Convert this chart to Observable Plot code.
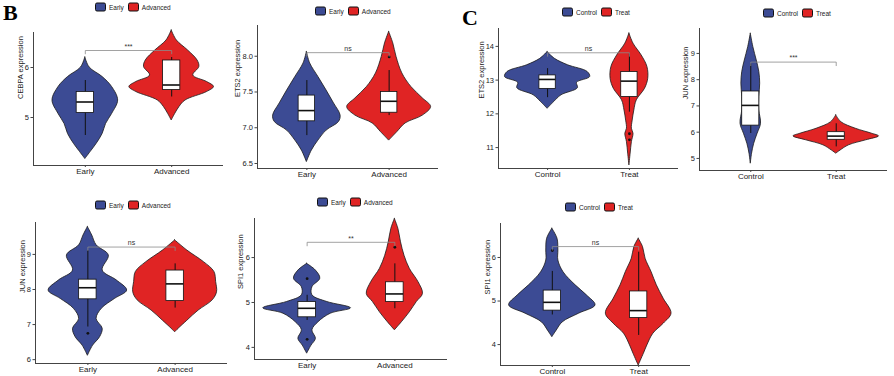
<!DOCTYPE html>
<html><head><meta charset="utf-8">
<script src="https://cdn.jsdelivr.net/npm/d3@7"></script>
<script src="https://cdn.jsdelivr.net/npm/@observablehq/plot@0.6"></script>
<style>
body{margin:0;background:#fff;}
#fig{position:relative;width:894px;height:376px;overflow:hidden;font-family:"Liberation Sans",Arial,sans-serif;background:#fff;}
.panel{position:absolute;}
.legend{position:absolute;display:flex;align-items:center;font-size:6.5px;color:#222;white-space:nowrap;transform:translateY(-50%);}
.sw{width:11px;height:9px;border:1px solid #111;border-radius:2px;box-sizing:border-box;margin-right:3px;}
.lt{margin-right:4px;}
.letter{position:absolute;font-family:"Liberation Serif","DejaVu Serif",serif;font-weight:bold;font-size:22px;line-height:22px;color:#000;}
</style></head><body><div id="fig"></div>
<script>
// ---------- data ----------
const groupsB = ["Early", "Advanced"];
const groupsC = ["Control", "Treat"];
const groupColors = ["#3C4B94", "#E02424"];

// violin outlines: [expression value, half-width in category units]
const CEBPA_Early = [[6.2,0],[6.0,.05],[5.81,.2],[5.61,.31],[5.34,.38],[5.07,.31],[4.87,.24],[4.67,.2],[4.47,.13],[4.33,.07],[4.17,0]];
const CEBPA_Advanced = [[6.74,0],[6.54,.06],[6.34,.19],[6.14,.30],[6.01,.32],[5.84,.25],[5.71,.41],[5.61,.49],[5.51,.41],[5.34,.16],[5.21,.09],[5.07,.04],[4.94,0]];
const ETS2B_Early = [[8.06,0],[7.90,.04],[7.71,.14],[7.52,.24],[7.34,.33],[7.17,.41],[7.08,.39],[6.96,.24],[6.82,.14],[6.68,.06],[6.52,0]];
const ETS2B_Advanced = [[8.34,0],[8.18,.05],[7.99,.09],[7.76,.16],[7.57,.27],[7.41,.41],[7.29,.51],[7.17,.41],[7.06,.2],[6.94,.1],[6.82,0]];
const JUNB_Early = [[9.78,0],[9.54,.05],[9.26,.1],[8.97,.24],[8.54,.17],[8.26,.33],[7.97,.45],[7.73,.31],[7.45,.16],[7.16,.1],[6.88,.17],[6.64,.14],[6.40,.06],[6.11,0]];
const JUNB_Advanced = [[9.40,0],[9.11,.14],[8.78,.33],[8.50,.45],[8.21,.47],[7.92,.48],[7.69,.43],[7.40,.27],[7.11,.14],[6.88,.04],[6.78,0]];
const SPI1B_Early = [[5.86,0],[5.71,.1],[5.53,.15],[5.34,.06],[5.16,.06],[5.01,.23],[4.87,.5],[4.75,.27],[4.56,.13],[4.38,.06],[4.19,.1],[4.04,.05],[3.86,0]];
const SPI1B_Advanced = [[6.86,0],[6.64,.04],[6.34,.07],[6.04,.11],[5.75,.17],[5.45,.27],[5.19,.32],[5.01,.25],[4.78,.17],[4.56,.08],[4.38,0]];
const ETS2C_Control = [[13.83,0],[13.63,.09],[13.44,.25],[13.24,.49],[13.09,.52],[12.92,.36],[12.76,.37],[12.55,.17],[12.35,.08],[12.15,0]];
const ETS2C_Treat = [[14.38,0],[14.08,.05],[13.73,.15],[13.39,.22],[13.04,.23],[12.74,.19],[12.40,.09],[12.10,.06],[11.80,.04],[11.56,.03],[11.41,.05],[11.16,.03],[10.82,.015],[10.47,0]];
const JUNC_Control = [[9.75,0],[9.24,.03],[8.73,.07],[8.29,.1],[7.85,.11],[7.34,.1],[6.83,.1],[6.32,.12],[5.94,.08],[5.56,.04],[5.18,.015],[4.80,0]];
const JUNC_Treat = [[6.64,0],[6.38,.06],[6.13,.23],[5.94,.42],[5.84,.5],[5.69,.35],[5.50,.15],[5.30,.05],[5.18,0]];
const SPI1C_Control = [[6.66,0],[6.43,.06],[6.16,.07],[5.93,.07],[5.66,.13],[5.36,.27],[5.13,.4],[4.90,.5],[4.71,.31],[4.51,.12],[4.32,.05],[4.17,0]];
const SPI1C_Treat = [[6.43,0],[6.24,.05],[5.97,.08],[5.66,.15],[5.36,.21],[5.05,.29],[4.71,.38],[4.48,.29],[4.25,.17],[3.98,.1],[3.79,.06],[3.52,0]];

// boxes: [q1, median, q3, whisker low, whisker high] per group
const CEBPA_box = [[5.09,5.31,5.51,4.64,5.74],[5.55,5.65,6.14,5.41,6.2]];
const ETS2B_box = [[7.09,7.24,7.45,6.89,7.66],[7.21,7.37,7.50,7.17,7.80]];
const JUNB_box = [[7.72,8.05,8.28,6.93,9.11],[7.67,8.16,8.54,7.47,8.73]];
const SPI1B_box = [[4.67,4.87,5.01,4.60,5.16],[5.01,5.19,5.45,4.86,5.86]];
const ETS2C_box = [[12.74,13.02,13.14,12.48,13.34],[12.50,12.97,13.24,12.05,13.78]];
const JUNC_box = [[6.25,7.02,7.55,5.95,8.6],[5.71,5.85,6.0,5.44,6.32]];
const SPI1C_box = [[4.78,4.97,5.24,4.68,5.68],[4.61,4.78,5.22,4.21,6.12]];

// outliers: [group index, value]
const CEBPA_out = [];
const ETS2B_out = [[1,7.99]];
const JUNB_out = [[0,6.75]];
const SPI1B_out = [[0,5.53],[0,4.18],[1,6.23]];
const ETS2C_out = [[1,11.41],[1,11.23]];
const JUNC_out = [];
const SPI1C_out = [[0,6.16]];

// significance: [bracket height, label]
const CEBPA_sig = [6.34, "***"];
const ETS2B_sig = [8.05, "ns"];
const JUNB_sig = [9.21, "ns"];
const SPI1B_sig = [6.34, "**"];
const ETS2C_sig = [13.81, "ns"];
const JUNC_sig = [8.67, "***"];
const SPI1C_sig = [6.25, "ns"];

// y tick values
const CEBPA_ticks = [5, 6];
const ETS2B_ticks = [6.5, 7.0, 7.5, 8.0];
const JUNB_ticks = [6, 7, 8, 9];
const SPI1B_ticks = [4, 5, 6];
const ETS2C_ticks = [11, 12, 13, 14];
const JUNC_ticks = [5, 6, 7, 8, 9];
const SPI1C_ticks = [4, 5, 6];

// ---------- panels (data + layout) ----------
const panels = [
  {gene:"CEBPA", groups:groupsB, violins:[CEBPA_Early, CEBPA_Advanced], box:CEBPA_box, out:CEBPA_out, sig:CEBPA_sig, ticks:CEBPA_ticks, fmt:null,
   L:{ax:33, base:165, top:32, right:223, domain:[4.04,6.7], tdx:13, leg:[95,7]}},
  {gene:"ETS2", groups:groupsB, violins:[ETS2B_Early, ETS2B_Advanced], box:ETS2B_box, out:ETS2B_out, sig:ETS2B_sig, ticks:ETS2B_ticks, fmt:".1f",
   L:{ax:257, base:168, top:25, right:438, domain:[6.43,8.43], tdx:20, leg:[315,11]}},
  {gene:"JUN", groups:groupsB, violins:[JUNB_Early, JUNB_Advanced], box:JUNB_box, out:JUNB_out, sig:JUNB_sig, ticks:JUNB_ticks, fmt:null,
   L:{ax:35, base:363, top:222, right:227, domain:[5.89,9.91], tdx:13, leg:[95,205]}},
  {gene:"SPI1", groups:groupsB, violins:[SPI1B_Early, SPI1B_Advanced], box:SPI1B_box, out:SPI1B_out, sig:SPI1B_sig, ticks:SPI1B_ticks, fmt:null,
   L:{ax:254, base:359, top:218, right:447, domain:[3.73,6.87], tdx:14, leg:[317,202]}},
  {gene:"ETS2", groups:groupsC, violins:[ETS2C_Control, ETS2C_Treat], box:ETS2C_box, out:ETS2C_out, sig:ETS2C_sig, ticks:ETS2C_ticks, fmt:null,
   L:{ax:498, base:168, top:28, right:678, domain:[10.38,14.53], tdx:17, leg:[562,12]}},
  {gene:"JUN", groups:groupsC, violins:[JUNC_Control, JUNC_Treat], box:JUNC_box, out:JUNC_out, sig:JUNC_sig, ticks:JUNC_ticks, fmt:null,
   L:{ax:699, base:170, top:28, right:887, domain:[4.54,9.95], tdx:14, leg:[763,13]}},
  {gene:"SPI1", groups:groupsC, violins:[SPI1C_Control, SPI1C_Treat], box:SPI1C_box, out:SPI1C_out, sig:SPI1C_sig, ticks:SPI1C_ticks, fmt:null,
   L:{ax:500, base:365, top:223, right:690, domain:[3.52,6.78], tdx:13, leg:[565,207]}}
];

const fig = document.getElementById("fig");

function drawPanel(p) {
  const L = p.L;
  const mL = 40, mR = 4, mT = 4, mB = 14;
  const w = L.right - L.ax + mL + mR;
  const h = L.base - L.top + mT + mB;
  const [y0, y1] = L.domain;
  const boxHalf = 0.1;
  const tip = (y1 - y0) * 0.025;
  const boxes = p.box.map(([q1, med, q3, lo, hi], i) => ({pos: i + 1, q1, med, q3, lo, hi}));
  const outs = p.out.map(([g, v]) => ({pos: g + 1, v}));
  const [sy, slab] = p.sig;
  const violinMarks = p.violins.map((prof, i) =>
    Plot.areaX(prof.map(([v, hw]) => ({v, x1: i + 1 - hw, x2: i + 1 + hw})),
      {y: "v", x1: "x1", x2: "x2", fill: groupColors[i], stroke: "#1a1a1a", strokeWidth: 0.8, curve: "catmull-rom"}));
  const chart = Plot.plot({
    width: w, height: h,
    marginLeft: mL, marginRight: mR, marginTop: mT, marginBottom: mB,
    x: {domain: [0.4, 2.6]},
    y: {domain: L.domain},
    style: {fontFamily: "'Liberation Sans', Arial, sans-serif", fontSize: "7.5px", color: "#222", background: "transparent", overflow: "visible"},
    marks: [
      Plot.ruleX([0.4], {stroke: "#444", strokeWidth: 1}),
      Plot.ruleY([y0], {stroke: "#444", strokeWidth: 1}),
      Plot.axisY({ticks: p.ticks, tickFormat: p.fmt ? d3.format(p.fmt) : (d => String(d)), tickSize: 2.5, tickPadding: 2, label: null, stroke: "#444", fontSize: 7.5}),
      Plot.axisX({ticks: [1, 2], tickFormat: d => p.groups[d - 1], tickSize: 2, tickPadding: 1, label: null, stroke: "#444", fontSize: 8}),
      Plot.text([p.gene + " expression"], {frameAnchor: "left", dx: -L.tdx, rotate: -90, fontSize: 7.5, fill: "#222"}),
      ...violinMarks,
      Plot.ruleX(boxes, {x: "pos", y1: "lo", y2: "hi", stroke: "#111", strokeWidth: 1}),
      Plot.rect(boxes, {x1: d => d.pos - boxHalf, x2: d => d.pos + boxHalf, y1: "q1", y2: "q3", fill: "white", stroke: "#111", strokeWidth: 0.8}),
      Plot.ruleY(boxes, {y: "med", x1: d => d.pos - boxHalf, x2: d => d.pos + boxHalf, stroke: "#111", strokeWidth: 1.6}),
      Plot.dot(outs, {x: "pos", y: "v", r: 1.4, fill: "#111", stroke: null}),
      Plot.line([[1, sy - tip], [1, sy], [2, sy], [2, sy - tip]], {stroke: "#8a8a8a", strokeWidth: 0.8}),
      Plot.text([slab], {x: 1.5, y: sy, dy: -4, fontSize: 7, fill: "#333"})
    ]
  });
  const div = document.createElement("div");
  div.className = "panel";
  div.style.left = (L.ax - mL) + "px";
  div.style.top = (L.top - mT) + "px";
  div.style.width = w + "px";
  div.style.height = h + "px";
  div.appendChild(chart);
  fig.appendChild(div);

  // legend
  const leg = document.createElement("div");
  leg.className = "legend";
  leg.style.left = L.leg[0] + "px";
  leg.style.top = L.leg[1] + "px";
  p.groups.forEach((g, i) => {
    const sw = document.createElement("div");
    sw.className = "sw";
    sw.style.background = groupColors[i];
    const t = document.createElement("span");
    t.className = "lt";
    t.textContent = g;
    leg.appendChild(sw);
    leg.appendChild(t);
  });
  fig.appendChild(leg);
}

panels.forEach(drawPanel);

// panel letters
[["B", 3, 2], ["C", 462, 7]].forEach(([t, x, y]) => {
  const d = document.createElement("div");
  d.className = "letter";
  d.style.left = x + "px";
  d.style.top = y + "px";
  d.textContent = t;
  fig.appendChild(d);
});
</script>
</body></html>
